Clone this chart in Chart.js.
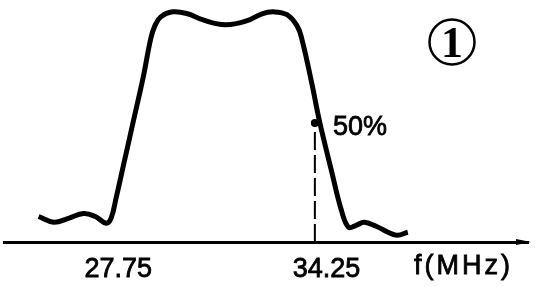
<!DOCTYPE html>
<html>
<head>
<meta charset="utf-8">
<script src="https://cdn.jsdelivr.net/npm/chart.js@4"></script>
<style>
  html, body { margin: 0; padding: 0; background: #fff; }
  #wrap { width: 536px; height: 287px; position: relative; }
</style>
</head>
<body>
<div id="wrap"><canvas id="myChart"></canvas></div>
<script>
// data (f in MHz, response in %)
const freq = [25.58, 26.05, 26.51, 26.98, 27.35, 27.69, 27.84, 28.0, 28.22, 28.53, 28.84, 29.08, 29.21, 29.39, 29.76, 30.23, 30.69, 31.41, 32.09, 32.55, 32.92, 33.33, 33.64, 33.79, 34.1, 34.35, 34.72, 35.03, 35.25, 35.49, 35.74, 36.11, 36.73, 37.1];
const response = [10.7, 8.3, 9.9, 12.0, 10.7, 7.9, 9.9, 18.6, 31.8, 50.4, 69.0, 85.5, 90.9, 94.6, 96.7, 95.9, 93.4, 91.3, 93.0, 95.9, 96.7, 95.5, 90.9, 85.5, 66.9, 50.4, 29.8, 13.2, 6.2, 7.0, 8.3, 6.6, 2.9, 4.1];
const tickValues = [27.75, 34.25];
const tickLabels = ["27.75", "34.25"];
const markerFreq = 34.3;
const markerLevel = 50;
const markerText = "50%";
const axisText = "f(MHz)";
const figureNo = "1";

const labelFont = "27px 'Liberation Sans', Arial, sans-serif";

// extra drawings: arrow on the axis, texts, circled number
const decorations = {
  id: "decorations",
  afterDraw(chart) {
    const c = chart.ctx;
    const x = chart.scales.x;
    const y = chart.scales.y;
    const area = chart.chartArea;
    c.save();
    c.fillStyle = "#000";
    c.strokeStyle = "#000";

    // arrowhead
    c.beginPath();
    c.moveTo(area.right + 3, area.bottom);
    c.lineTo(area.right - 12, area.bottom - 3);
    c.lineTo(area.right - 12, area.bottom + 3);
    c.closePath();
    c.fill();

    // 50% label
    c.font = labelFont;
    c.lineWidth = 0.8;
    c.textBaseline = "middle";
    c.textAlign = "left";
    const mx = x.getPixelForValue(markerFreq) + 15;
    const my = y.getPixelForValue(markerLevel) + 5;
    c.fillText(markerText, mx, my);
    c.strokeText(markerText, mx, my);

    // axis name
    c.letterSpacing = "3px";
    c.fillText(axisText, 414, 267);
    c.strokeText(axisText, 414, 267);
    c.letterSpacing = "0px";

    // circled number
    c.lineWidth = 2.5;
    c.beginPath();
    c.arc(452, 42, 22.5, 0, Math.PI * 2);
    c.stroke();
    c.font = "bold 44px 'Liberation Serif', 'Times New Roman', serif";
    c.textAlign = "center";
    c.textBaseline = "alphabetic";
    c.fillText(figureNo, 452, 57);
    c.restore();
  },
};

const ctx = document.getElementById("myChart");

new Chart(ctx, {
  type: "line",
  data: {
    datasets: [
      {
        data: freq.map((f, i) => ({ x: f, y: response[i] })),
        borderColor: "#000",
        borderWidth: 5,
        tension: 0.4,
        pointRadius: 0,
        clip: false,
      },
      {
        data: [
          { x: markerFreq - 0.1, y: 0 },
          { x: markerFreq - 0.1, y: markerLevel },
        ],
        borderColor: "#000",
        borderWidth: 2,
        borderDash: [18, 5],
        pointRadius: [0, 4],
        pointBackgroundColor: "#000",
        pointBorderWidth: 0,
        clip: false,
      },
    ],
  },
  plugins: [decorations],
  options: {
    responsive: true,
    maintainAspectRatio: false,
    animation: false,
    layout: {
      padding: { left: 0, right: 8, top: 0, bottom: 0 },
    },
    plugins: {
      legend: { display: false },
      tooltip: { enabled: false },
    },
    scales: {
      x: {
        type: "linear",
        min: 24.5,
        max: 40.85,
        afterFit: (scale) => {
          scale.height = 45;
        },
        afterBuildTicks: (scale) => {
          scale.ticks = tickValues.map((v) => ({ value: v }));
        },
        grid: { display: false, drawTicks: false },
        border: { display: true, color: "#000", width: 3 },
        ticks: {
          color: "#000",
          font: { family: "'Liberation Sans', Arial, sans-serif", size: 27 },
          textStrokeColor: "#000",
          textStrokeWidth: 0.8,
          padding: 11,
          labelOffset: 10,
          maxRotation: 0,
          autoSkip: false,
          callback: (value) => tickLabels[tickValues.indexOf(value)],
        },
      },
      y: {
        display: false,
        min: 0,
        max: 100,
      },
    },
  },
});
</script>
</body>
</html>
